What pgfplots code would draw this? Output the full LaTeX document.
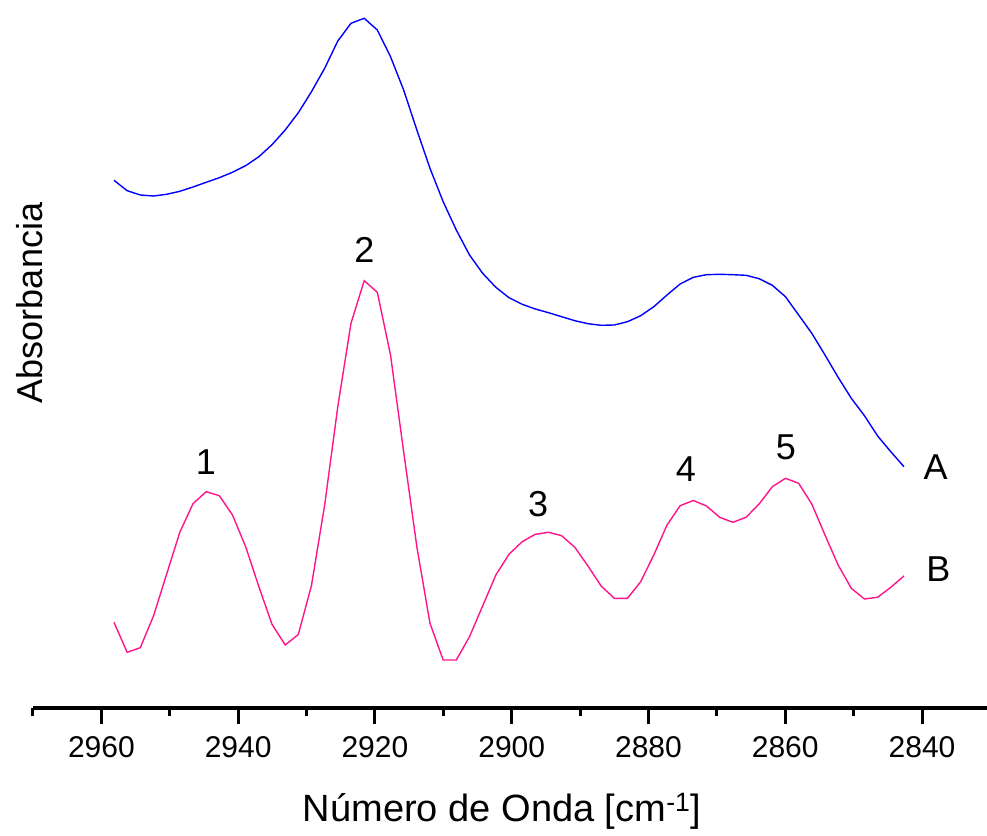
\documentclass[border=0pt]{standalone}
\usepackage{pgfplots}
\usepackage{pgfplotstable}
\pgfplotsset{compat=1.18}
\usepackage{fontspec}
\setmainfont{Liberation Sans}
\definecolor{curveA}{RGB}{0,0,255}
\definecolor{curveB}{RGB}{255,20,140}
\pgfplotstableread{
x a b
2958.16 654.7 212.7
2956.23 644.3 182.7
2954.31 640.0 187.3
2952.38 639.0 219.0
2950.45 640.7 261.0
2948.53 643.7 302.7
2946.60 648.0 331.3
2944.68 652.7 343.3
2942.75 657.3 339.3
2940.83 662.7 320.0
2938.90 669.3 288.3
2936.97 678.3 248.3
2935.05 690.3 210.7
2933.12 705.0 190.0
2931.20 722.3 200.5
2929.28 743.3 249.5
2927.35 766.7 330.0
2925.43 794.0 428.3
2923.50 811.7 511.7
2921.57 816.7 554.3
2919.65 805.0 542.7
2917.72 778.3 480.0
2915.80 745.0 383.3
2913.87 705.0 288.3
2911.95 666.7 211.7
2910.02 633.3 175.0
2908.10 605.0 175.0
2906.17 580.0 198.3
2904.25 561.7 229.0
2902.32 547.7 260.0
2900.40 537.3 280.7
2898.47 530.7 293.3
2896.55 526.0 300.7
2894.62 522.3 302.7
2892.70 518.3 299.3
2890.77 514.3 287.7
2888.85 511.3 269.0
2886.92 509.7 249.0
2885.00 510.0 236.7
2883.07 513.3 236.7
2881.14 519.3 253.3
2879.22 528.3 280.0
2877.29 540.0 310.0
2875.37 551.0 329.3
2873.44 557.7 334.5
2871.52 560.3 329.0
2869.59 560.7 317.7
2867.67 560.3 312.7
2865.74 559.7 317.7
2863.82 556.3 331.0
2861.89 549.7 348.3
2859.97 538.3 356.7
2858.04 520.0 351.7
2856.12 501.7 331.0
2854.19 480.0 300.0
2852.27 457.7 270.0
2850.34 436.7 246.7
2848.42 419.3 236.0
2846.49 399.0 237.7
2844.57 383.3 247.7
2842.64 368.3 259.0
}\spectra
\begin{document}
\begin{tikzpicture}[x=1pt,y=1pt]
\path[use as bounding box] (0,0) rectangle (987,835);
\begin{axis}[
  at={(33pt,127pt)}, anchor=south west,
  scale only axis, width=954pt, height=708pt,
  xmin=2830.5, xmax=2970, x dir=reverse,
  ymin=127, ymax=835,
  axis x line=bottom, axis y line=none, ytick=\empty,
  x axis line style={-, line width=3.5pt, black},
  xtick={2840,2860,...,2960},
  minor xtick={2850,2870,...,2970},
  tick align=outside,
  major tick length=16pt, minor tick length=8pt,
  every tick/.style={black, line width=3pt},
  xticklabel style={font=\fontsize{30}{36}\selectfont, anchor=north, inner sep=0pt, yshift=-12pt},
  /pgf/number format/.cd, 1000 sep={}, assume math mode=true,
  /pgfplots/.cd,
  xlabel={Número de Onda [cm\textsuperscript{-1}]},
  xlabel style={font=\fontsize{38}{44}\selectfont, at={(axis description cs:0.4916,-0.1596)}, anchor=base, inner sep=0pt},
  clip=false,
]
\addplot[curveA, line width=1.4pt] table[x=x, y=a] {\spectra};
\addplot[curveB, line width=1.4pt] table[x=x, y=b] {\spectra};
\begin{scope}[every node/.style={font=\fontsize{36}{43}\selectfont, inner sep=0pt}]
\node at (axis cs:2944.70,373) {1};
\node at (axis cs:2921.56,585) {2};
\node at (axis cs:2896.12,331) {3};
\node at (axis cs:2874.52,366) {4};
\node at (axis cs:2859.90,388) {5};
\node at (axis cs:2838.01,367.5) {A};
\node at (axis cs:2837.62,266.2) {B};
\end{scope}
\end{axis}
\node[rotate=90, anchor=base, font=\fontsize{36}{43}\selectfont, inner sep=0pt] at (43,532) {Absorbancia};
\end{tikzpicture}
\end{document}
